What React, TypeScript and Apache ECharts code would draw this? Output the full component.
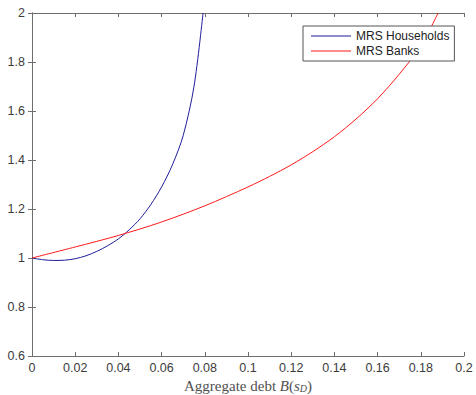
import React, { useEffect, useRef } from "react";
import * as echarts from "echarts";

const householdsX = [0, 0.005, 0.01, 0.015, 0.02, 0.025, 0.03, 0.035, 0.04, 0.045, 0.05, 0.055, 0.06, 0.065, 0.07, 0.075, 0.0792];
const householdsY = [1, 0.993, 0.99, 0.991, 0.997, 1.009, 1.027, 1.05, 1.078, 1.115, 1.16, 1.218, 1.29, 1.38, 1.5, 1.7, 2.0];
const banksX = [0, 0.02, 0.04, 0.06, 0.08, 0.1, 0.11, 0.12, 0.13, 0.14, 0.15, 0.16, 0.17, 0.18, 0.188];
const banksY = [1, 1.045, 1.092, 1.147, 1.213, 1.29, 1.333, 1.38, 1.434, 1.495, 1.567, 1.65, 1.75, 1.865, 2.0];
const seriesNames = ["MRS Households", "MRS Banks"];

const axisColor = "#6e6e6e";
const labelColor = "#3c3c3c";
const sans = "Arial, 'Liberation Sans', Helvetica, sans-serif";
const serif = "'Liberation Serif', 'Times New Roman', serif";

export default function App() {
  const ref = useRef<HTMLDivElement>(null);
  useEffect(() => {
    if (!ref.current) return;
    const chart = echarts.init(ref.current, null, { renderer: "svg" });
    const xFmt = (v: number) => String(+v.toFixed(2));
    const yFmt = (v: number) => String(+v.toFixed(1));
    const common = {
      axisLine: { show: true, lineStyle: { color: axisColor, width: 1 } },
      axisTick: { show: true, inside: true, length: 4, lineStyle: { color: axisColor } },
      splitLine: { show: false },
    };
    chart.setOption({
      animation: false,
      backgroundColor: "#fff",
      grid: { left: 32, right: 12, top: 13, bottom: 39, containLabel: false, outerBoundsMode: "none" },
      legend: {
        data: seriesNames,
        orient: "vertical",
        left: 303,
        top: 26,
        padding: [4, 5, 4, 8],
        itemGap: 3,
        itemWidth: 40,
        itemHeight: 1,
        icon: "rect",
        borderColor: "#555",
        borderWidth: 1,
        backgroundColor: "#fff",
        textStyle: { fontFamily: sans, fontSize: 12, color: "#222" },
      },
      xAxis: [
        {
          type: "value",
          min: 0,
          max: 0.2,
          interval: 0.02,
          ...common,
          axisLabel: { formatter: xFmt, margin: 5, color: labelColor, fontFamily: sans, fontSize: 12.5 },
          name: "Aggregate debt {i|B}({i|s}{sub|D})",
          nameLocation: "middle",
          nameGap: 19,
          nameTextStyle: {
            fontFamily: serif,
            fontSize: 15,
            color: "#505050",
            verticalAlign: "top",
            rich: {
              i: { fontFamily: serif, fontStyle: "italic", fontSize: 15, color: "#505050" },
              sub: { fontFamily: serif, fontStyle: "italic", fontSize: 10, color: "#505050", verticalAlign: "bottom", padding: [5, 0, 0, 0] },
            },
          },
        },
        {
          type: "value",
          position: "top",
          min: 0,
          max: 0.2,
          interval: 0.02,
          ...common,
          axisLabel: { show: false },
        },
      ],
      yAxis: [
        {
          type: "value",
          min: 0.6,
          max: 2,
          interval: 0.2,
          ...common,
          axisLabel: { formatter: yFmt, margin: 7, color: labelColor, fontFamily: sans, fontSize: 12.5 },
        },
        {
          type: "value",
          position: "right",
          min: 0.6,
          max: 2,
          interval: 0.2,
          ...common,
          axisLabel: { show: false },
        },
      ],
      series: [
        {
          name: seriesNames[0],
          type: "line",
          data: householdsX.map((x, i) => [x, householdsY[i]]),
          smooth: 0.3,
          showSymbol: false,
          symbol: "none",
          clip: true,
          lineStyle: { color: "#1e1e9a", width: 1 },
          itemStyle: { color: "#1e1e9a" },
        },
        {
          name: seriesNames[1],
          type: "line",
          data: banksX.map((x, i) => [x, banksY[i]]),
          smooth: 0.3,
          showSymbol: false,
          symbol: "none",
          clip: true,
          lineStyle: { color: "#ff1a1a", width: 1 },
          itemStyle: { color: "#ff1a1a" },
        },
      ],
    });
    return () => chart.dispose();
  }, []);
  return <div ref={ref} style={{ position: "fixed", left: 0, top: 0, width: 476, height: 395 }} />;
}
